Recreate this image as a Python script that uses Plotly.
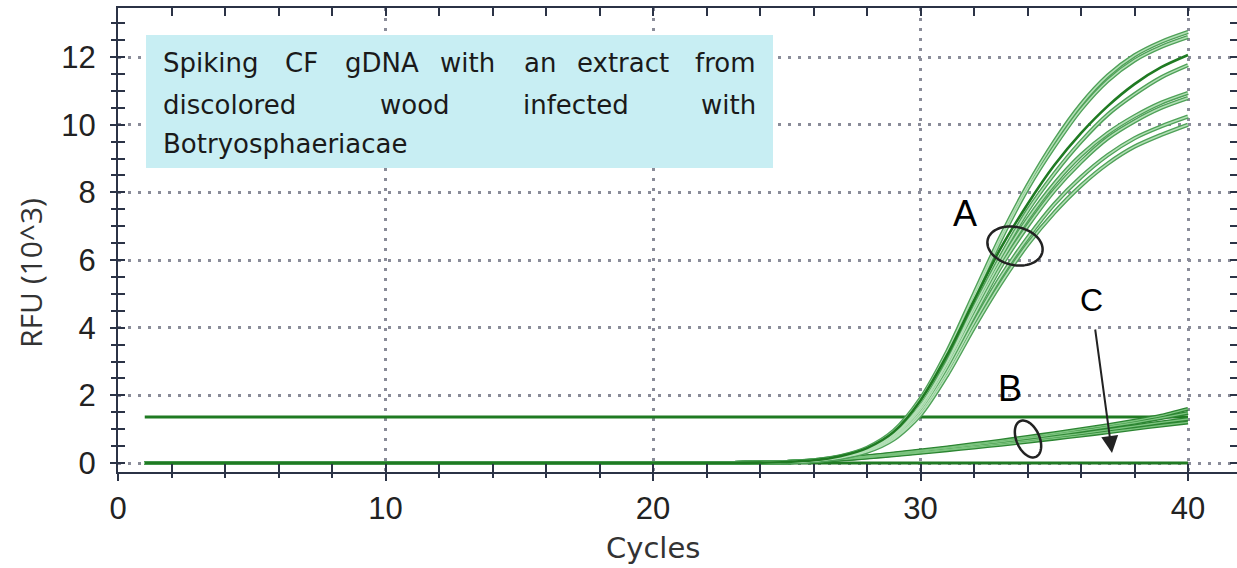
import numpy as np
import plotly.graph_objects as go

# ---------------- data ----------------
cycles = list(range(1, 41))

# Group A (strong amplification) - RFU x10^3
A1 = [0,0,0,0,0,0,0,0,0,0, 0,0,0,0,0,0,0,0,0,0, 0,0,0,
      0.01,0.03,0.08,0.20,0.45,0.95,1.90,3.30,5.00,6.70,8.20,9.50,10.60,11.45,12.05,12.45,12.74]
A2 = [0,0,0,0,0,0,0,0,0,0, 0,0,0,0,0,0,0,0,0,0, 0,0,0,
      0.01,0.03,0.08,0.19,0.42,0.90,1.80,3.20,4.90,6.60,8.10,9.35,10.45,11.30,11.90,12.30,12.59]
A3 = [0,0,0,0,0,0,0,0,0,0, 0,0,0,0,0,0,0,0,0,0, 0,0,0,
      0.01,0.03,0.08,0.20,0.44,0.92,1.85,3.20,4.80,6.35,7.65,8.80,9.75,10.55,11.20,11.70,12.06]
A4 = [0,0,0,0,0,0,0,0,0,0, 0,0,0,0,0,0,0,0,0,0, 0,0,0,
      0.01,0.03,0.07,0.18,0.40,0.85,1.70,3.00,4.60,6.10,7.45,8.55,9.50,10.30,10.90,11.40,11.76]
A5 = [0,0,0,0,0,0,0,0,0,0, 0,0,0,0,0,0,0,0,0,0, 0,0,0,
      0.01,0.03,0.07,0.18,0.39,0.82,1.65,2.95,4.50,5.95,7.20,8.25,9.10,9.75,10.25,10.65,10.94]
A6 = [0,0,0,0,0,0,0,0,0,0, 0,0,0,0,0,0,0,0,0,0, 0,0,0,
      0.01,0.02,0.07,0.17,0.37,0.78,1.58,2.85,4.35,5.80,7.00,8.05,8.90,9.60,10.10,10.50,10.79]
A7 = [0,0,0,0,0,0,0,0,0,0, 0,0,0,0,0,0,0,0,0,0, 0,0,0,
      0.01,0.02,0.06,0.16,0.35,0.74,1.50,2.70,4.15,5.50,6.65,7.65,8.45,9.10,9.60,9.95,10.24]
A8 = [0,0,0,0,0,0,0,0,0,0, 0,0,0,0,0,0,0,0,0,0, 0,0,0,
      0.01,0.02,0.06,0.15,0.33,0.70,1.42,2.60,4.00,5.30,6.45,7.40,8.20,8.85,9.35,9.70,10.00]

# Group B (weak amplification)
B1 = [0,0,0,0,0,0,0,0,0,0, 0,0,0,0,0,0,0,0,0,0, 0,0,0,
      0.01,0.03,0.07,0.13,0.20,0.28,0.37,0.46,0.56,0.66,0.77,0.88,1.00,1.12,1.25,1.40,1.60]
B2 = [0,0,0,0,0,0,0,0,0,0, 0,0,0,0,0,0,0,0,0,0, 0,0,0,
      0.01,0.03,0.06,0.12,0.19,0.27,0.35,0.44,0.53,0.63,0.73,0.84,0.95,1.07,1.19,1.33,1.48]
B3 = [0,0,0,0,0,0,0,0,0,0, 0,0,0,0,0,0,0,0,0,0, 0,0,0,
      0.01,0.02,0.05,0.11,0.17,0.24,0.32,0.40,0.49,0.58,0.67,0.77,0.87,0.98,1.09,1.20,1.30]
B4 = [0,0,0,0,0,0,0,0,0,0, 0,0,0,0,0,0,0,0,0,0, 0,0,0,
      0.01,0.02,0.05,0.10,0.16,0.23,0.30,0.38,0.46,0.54,0.63,0.72,0.81,0.91,1.01,1.11,1.20]

# Group C (no amplification)
C1 = [0,0,0,0,0,0,0,0,0,0, 0,0,0,0,0,0,0,0,0,0,
      0,0,0,0,0,0,0,0,0,0, 0,0,0,0,0,0,0,0,0,0]

threshold = 1.36
threshold_x = [1, 40]

x_ticks = [0, 10, 20, 30, 40]
y_ticks = [0, 2, 4, 6, 8, 10, 12]

box_lines = [
    ["Spiking", "CF", "gDNA", "with", "an", "extract", "from"],
    ["discolored", "wood", "infected", "with"],
    ["Botryosphaeriacae"],
]

# ---------------- geometry ----------------
W, H = 1237, 568
L, R, T, B = 118, 0, 8, 96
PW, PH = W - L - R, H - T - B
PX_PER_X = 26.75
PX_PER_Y = 33.83
X0_PX, Y0_PX = 118, 463
xr = [0, PW / PX_PER_X]
yr = [-(T + PH - Y0_PX) / PX_PER_Y, (Y0_PX - T) / PX_PER_Y]


def px2paper(px, py):
    return (px - L) / PW, (T + PH - py) / PH


def px2data(px, py):
    return (px - X0_PX) / PX_PER_X, (Y0_PX - py) / PX_PER_Y


fig = go.Figure()

DARK = "#1f7a22"

# threshold and no-amp line
fig.add_trace(go.Scatter(x=threshold_x, y=[threshold, threshold], mode="lines",
                         line=dict(color=DARK, width=3), hoverinfo="skip"))
fig.add_trace(go.Scatter(x=cycles, y=C1, mode="lines",
                         line=dict(color=DARK, width=3), hoverinfo="skip"))

# B curves (outlined look)
for yy in [B1, B2, B3, B4]:
    fig.add_trace(go.Scatter(x=cycles, y=yy, mode="lines",
                             line=dict(color="#2c8532", width=4, shape="spline", smoothing=0.6),
                             hoverinfo="skip"))
for yy in [B1, B2, B3, B4]:
    fig.add_trace(go.Scatter(x=cycles, y=yy, mode="lines",
                             line=dict(color="#7cc47f", width=1.4, shape="spline", smoothing=0.6),
                             hoverinfo="skip"))

# A curves
for yy in [A1, A2, A4, A5, A6, A7, A8]:
    fig.add_trace(go.Scatter(x=cycles, y=yy, mode="lines",
                             line=dict(color="#4fa158", width=4.2, shape="spline", smoothing=0.8),
                             hoverinfo="skip"))
for yy in [A1, A2, A4, A5, A6, A7, A8]:
    fig.add_trace(go.Scatter(x=cycles, y=yy, mode="lines",
                             line=dict(color="#b4e0b7", width=1.5, shape="spline", smoothing=0.8),
                             hoverinfo="skip"))
fig.add_trace(go.Scatter(x=cycles, y=A3, mode="lines",
                         line=dict(color=DARK, width=2.6, shape="spline", smoothing=0.8),
                         hoverinfo="skip"))

# invisible helper traces for overlay axes (crossing ticks)
fig.add_trace(go.Scatter(x=[None], y=[None], xaxis="x2", yaxis="y", showlegend=False, hoverinfo="skip"))
fig.add_trace(go.Scatter(x=[None], y=[None], xaxis="x", yaxis="y2", showlegend=False, hoverinfo="skip"))

AXC = "#2b3346"
GRIDC = "#8a8c99"
TICKFONT = dict(family="Liberation Sans, Arial, sans-serif", size=31, color="#222222")

fig.update_layout(
    width=W, height=H,
    margin=dict(l=L, r=R, t=T, b=B, pad=0, autoexpand=False),
    paper_bgcolor="white", plot_bgcolor="white",
    showlegend=False,
    xaxis=dict(range=xr, tickvals=x_ticks, ticktext=[str(v) for v in x_ticks],
               showgrid=True, gridcolor=GRIDC, gridwidth=2.5, griddash="3px,7px",
               zeroline=False, showline=True, linecolor=AXC, linewidth=2, mirror="allticks",
               ticks="inside", ticklen=8, tickwidth=2, tickcolor=AXC,
               minor=dict(dtick=2, tick0=0, ticks="inside", ticklen=5, tickwidth=2, tickcolor=AXC, showgrid=False),
               tickfont=TICKFONT, ticklabelstandoff=8),
    xaxis2=dict(range=xr, overlaying="x", side="bottom", anchor="y", showgrid=False, zeroline=False,
                showline=False, showticklabels=False, tickvals=x_ticks,
                ticks="outside", ticklen=8, tickwidth=2, tickcolor=AXC,
                minor=dict(dtick=2, tick0=0, ticks="outside", ticklen=5, tickwidth=2, tickcolor=AXC, showgrid=False)),
    yaxis=dict(range=yr, tickvals=y_ticks, ticktext=[str(v) for v in y_ticks],
               showgrid=True, gridcolor=GRIDC, gridwidth=2.5, griddash="3px,7px",
               zeroline=False, showline=True, linecolor=AXC, linewidth=2, mirror="allticks",
               ticks="inside", ticklen=7, tickwidth=2, tickcolor=AXC,
               minor=dict(dtick=0.5, tick0=0, ticks="inside", ticklen=6, tickwidth=2, tickcolor=AXC, showgrid=False),
               tickfont=TICKFONT, ticklabelstandoff=14),
    yaxis2=dict(range=yr, overlaying="y", side="left", anchor="x", showgrid=False, zeroline=False,
                showline=False, showticklabels=False, tickvals=y_ticks,
                ticks="outside", ticklen=7, tickwidth=2, tickcolor=AXC,
                minor=dict(dtick=0.5, tick0=0, ticks="outside", ticklen=6, tickwidth=2, tickcolor=AXC, showgrid=False)),
)

# text box background
bx0, by0 = px2paper(146, 168)
bx1, by1 = px2paper(773, 35)
fig.add_shape(type="rect", xref="paper", yref="paper", x0=bx0, y0=by0, x1=bx1, y1=by1,
              fillcolor="#c8eef3", line=dict(width=0), layer="above")

BOXFONT = dict(family="DejaVu Sans, sans-serif", size=26, color="#1a1a1a")
line_y = [63, 105, 144]
# (pixel position, anchor) of each word
word_pos = [
    [(162, "left"), (301, "center"), (382, "center"), (467, "center"), (540, "center"),
     (623, "center"), (757, "right")],
    [(162, "left"), (415, "center"), (576, "center"), (757, "right")],
    [(162, "left")],
]
for words, poss, ly in zip(box_lines, word_pos, line_y):
    for w, (lx, anc) in zip(words, poss):
        xp, yp = px2paper(lx, ly)
        fig.add_annotation(text=w, xref="paper", yref="paper", x=xp, y=yp,
                           xanchor=anc, yanchor="middle", showarrow=False, font=BOXFONT,
                           borderpad=0)

# axis titles
xp, yp = px2paper(653, 548)
fig.add_annotation(text="Cycles", xref="paper", yref="paper", x=xp, y=yp,
                   xanchor="center", yanchor="middle", showarrow=False,
                   font=dict(family="DejaVu Sans, sans-serif", size=29, color="#333333"))
xp, yp = px2paper(30, 273)
fig.add_annotation(text="RFU (10^3)", xref="paper", yref="paper", x=xp, y=yp, textangle=-90,
                   xanchor="center", yanchor="middle", showarrow=False,
                   font=dict(family="Open Sans, sans-serif", size=30, color="#333333"))

# letter labels
LABFONT = dict(family="Liberation Sans, Arial, sans-serif", color="black")
for txt, (px, py), sz in [("A", (965, 213), 36), ("B", (1010, 388), 36), ("C", (1091, 300), 32)]:
    dx, dy = px2data(px, py)
    fig.add_annotation(text=txt, x=dx, y=dy, xanchor="center", yanchor="middle",
                       showarrow=False, font=dict(size=sz, **LABFONT))

# arrow for C
tx, ty = px2data(1095, 328)
hx, hy = px2data(1112, 453)
fig.add_annotation(x=hx, y=hy, ax=tx, ay=ty, axref="x", ayref="y", text="",
                   showarrow=True, arrowhead=2, arrowsize=1.7, arrowwidth=2, arrowcolor="#222222")


def ellipse_path(cx_px, cy_px, a, b, ang_deg):
    t = np.linspace(0, 2 * np.pi, 80)
    ang = np.deg2rad(ang_deg)
    ex = a * np.cos(t)
    ey = b * np.sin(t)
    px = cx_px + ex * np.cos(ang) - ey * np.sin(ang)
    py = cy_px + ex * np.sin(ang) + ey * np.cos(ang)
    pts = [px2data(u, v) for u, v in zip(px, py)]
    return "M " + " L ".join(f"{u:.4f},{v:.4f}" for u, v in pts) + " Z"


fig.add_shape(type="path", path=ellipse_path(1015, 246, 28, 19, 13), xref="x", yref="y",
              line=dict(color="#222222", width=2.5), layer="above")
fig.add_shape(type="path", path=ellipse_path(1028, 439, 19.5, 11.5, 66), xref="x", yref="y",
              line=dict(color="#222222", width=2.5), layer="above")

fig.write_html(
    "out.html",
    config={"displayModeBar": False},
    post_script="document.body.style.margin='0px';document.body.style.padding='0px';"
                "document.documentElement.style.overflow='hidden';document.body.style.overflow='hidden';",
)
